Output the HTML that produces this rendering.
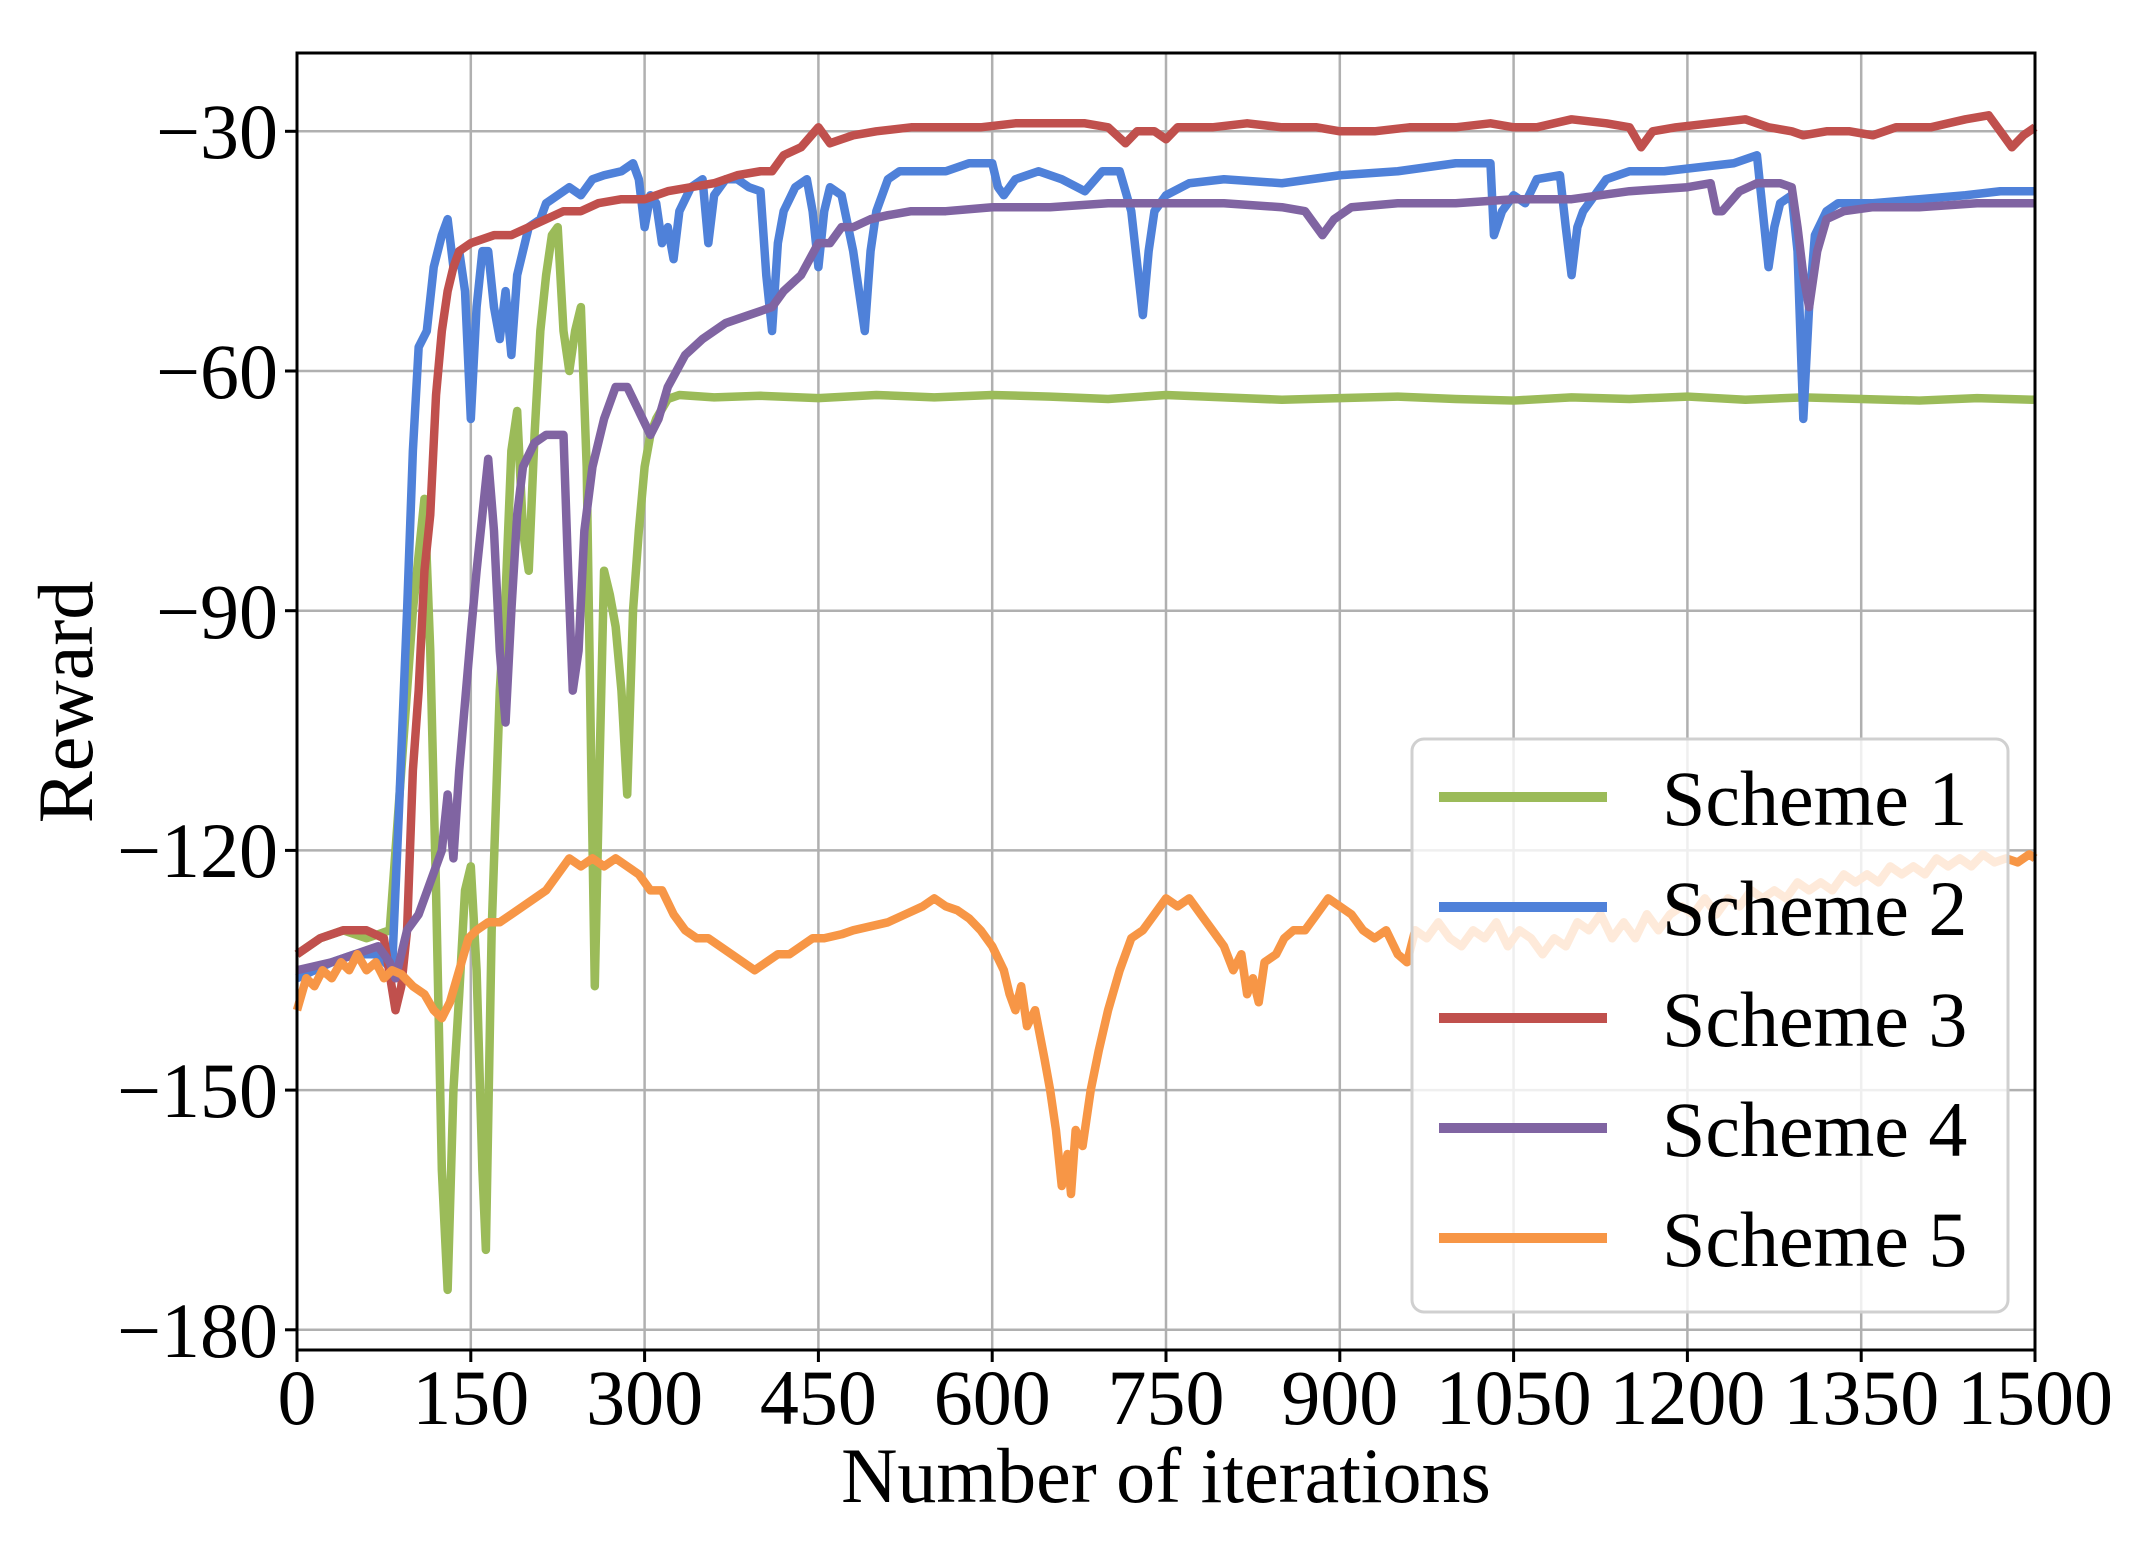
<!DOCTYPE html>
<html><head><meta charset="utf-8"><style>
html,body{margin:0;padding:0;background:#fff}
svg{display:block}
text{font-family:"Liberation Serif",serif;fill:#000}
</style></head><body>
<svg width="2152" height="1541" viewBox="0 0 2152 1541" xmlns="http://www.w3.org/2000/svg">
<rect width="2152" height="1541" fill="#fff"/>
<g stroke="#b0b0b0" stroke-width="2.5">
<line x1="470.8" y1="53" x2="470.8" y2="1350"/>
<line x1="644.6" y1="53" x2="644.6" y2="1350"/>
<line x1="818.4" y1="53" x2="818.4" y2="1350"/>
<line x1="992.2" y1="53" x2="992.2" y2="1350"/>
<line x1="1166" y1="53" x2="1166" y2="1350"/>
<line x1="1339.8" y1="53" x2="1339.8" y2="1350"/>
<line x1="1513.6" y1="53" x2="1513.6" y2="1350"/>
<line x1="1687.4" y1="53" x2="1687.4" y2="1350"/>
<line x1="1861.2" y1="53" x2="1861.2" y2="1350"/>
<line x1="297" y1="131.3" x2="2035" y2="131.3"/>
<line x1="297" y1="371" x2="2035" y2="371"/>
<line x1="297" y1="610.7" x2="2035" y2="610.7"/>
<line x1="297" y1="850.4" x2="2035" y2="850.4"/>
<line x1="297" y1="1090.1" x2="2035" y2="1090.1"/>
<line x1="297" y1="1329.8" x2="2035" y2="1329.8"/>
</g>
<g transform="matrix(1.1587 0 0 -7.99 297 -108.4)" fill="none" stroke-linejoin="round">
<polyline vector-effect="non-scaling-stroke" stroke="#9bbb59" stroke-width="8.5" points="0,-133 20,-131 40,-130 60,-131 80,-130 90,-110 100,-90 110,-76 115,-95 120,-125 125,-160 130,-175 135,-150 140,-138 145,-125 150,-122 155,-135 160,-160 163,-170 168,-130 175,-100 180,-88 185,-70 190,-65 195,-80 200,-85 205,-68 210,-55 215,-48 220,-43 225,-42 230,-55 235,-60 240,-55 245,-52 250,-72 254,-110 257,-137 261,-110 265,-85 270,-88 275,-92 280,-100 285,-113 290,-90 295,-80 300,-72 305,-68 310,-66 320,-63.5 330,-63 360,-63.3 400,-63.1 450,-63.4 500,-63 550,-63.3 600,-63 650,-63.2 700,-63.5 750,-63 800,-63.3 850,-63.6 900,-63.4 950,-63.2 1000,-63.5 1050,-63.7 1100,-63.3 1150,-63.5 1200,-63.2 1250,-63.6 1300,-63.3 1350,-63.5 1400,-63.7 1450,-63.4 1500,-63.6"/>
<polyline vector-effect="non-scaling-stroke" stroke="#4f81d9" stroke-width="8.5" points="0,-136 30,-134 50,-133 70,-133 82,-135 88,-115 95,-90 100,-70 105,-57 112,-55 118,-47 125,-43 130,-41 135,-47 140,-45 145,-50 150,-66 155,-52 160,-45 165,-45 170,-52 175,-56 180,-50 185,-58 190,-48 195,-45 200,-42 210,-41 215,-39 225,-38 235,-37 245,-38 255,-36 265,-35.5 280,-35 290,-34 295,-36 300,-42 305,-38 310,-39 315,-44 320,-42 325,-46 330,-40 340,-37 350,-36 355,-44 360,-38 370,-36 380,-36 390,-37 400,-37.5 405,-48 410,-55 415,-44 420,-40 430,-37 440,-36 445,-40 450,-47 455,-40 460,-37 470,-38 480,-45 490,-55 495,-45 500,-40 510,-36 520,-35 540,-35 560,-35 580,-34 600,-34 605,-37 610,-38 620,-36 640,-35 660,-36 680,-37.5 695,-35 710,-35 720,-40 730,-53 735,-45 740,-40 750,-38 770,-36.5 800,-36 850,-36.5 900,-35.5 950,-35 1000,-34 1030,-34 1033,-43 1040,-40 1050,-38 1060,-39 1070,-36 1090,-35.5 1095,-42 1100,-48 1105,-42 1110,-40 1120,-38 1130,-36 1150,-35 1180,-35 1210,-34.5 1240,-34 1260,-33 1265,-40 1270,-47 1275,-42 1280,-39 1290,-38 1295,-45 1300,-66 1305,-52 1310,-43 1320,-40 1330,-39 1360,-39 1400,-38.5 1440,-38 1470,-37.5 1500,-37.5"/>
<polyline vector-effect="non-scaling-stroke" stroke="#c0504d" stroke-width="8.5" points="0,-133 20,-131 40,-130 60,-130 75,-131 85,-140 90,-137 95,-130 100,-110 105,-100 110,-85 115,-78 120,-63 125,-55 130,-50 135,-47 140,-45 150,-44 170,-43 185,-43 200,-42 215,-41 230,-40 245,-40 260,-39 280,-38.5 300,-38.5 320,-37.5 340,-37 360,-36.5 380,-35.5 400,-35 410,-35 420,-33 435,-32 450,-29.5 460,-31.5 470,-31 480,-30.5 500,-30 530,-29.5 560,-29.5 590,-29.5 620,-29 650,-29 680,-29 700,-29.5 715,-31.5 725,-30 740,-30 750,-31 760,-29.5 790,-29.5 820,-29 850,-29.5 880,-29.5 900,-30 930,-30 960,-29.5 1000,-29.5 1030,-29 1050,-29.5 1070,-29.5 1100,-28.5 1130,-29 1150,-29.5 1160,-32 1170,-30 1190,-29.5 1220,-29 1250,-28.5 1270,-29.5 1290,-30 1300,-30.5 1320,-30 1340,-30 1360,-30.5 1380,-29.5 1410,-29.5 1440,-28.5 1460,-28 1470,-30 1480,-32 1490,-30.5 1500,-29.5"/>
<polyline vector-effect="non-scaling-stroke" stroke="#8064a2" stroke-width="8.5" points="0,-135 30,-134 50,-133 70,-132 80,-134 85,-136 95,-130 105,-128 115,-124 125,-120 130,-113 135,-121 140,-110 150,-93 155,-85 160,-78 165,-71 170,-80 175,-95 180,-104 185,-90 190,-78 195,-72 205,-69 215,-68 230,-68 234,-85 238,-100 243,-95 248,-80 255,-72 265,-66 275,-62 285,-62 295,-65 305,-68 312,-66 320,-62 335,-58 350,-56 370,-54 390,-53 410,-52 420,-50 435,-48 450,-44 460,-44 470,-42 480,-42 495,-41 510,-40.5 530,-40 560,-40 600,-39.5 650,-39.5 700,-39 750,-39 800,-39 850,-39.5 870,-40 885,-43 895,-41 910,-39.5 950,-39 1000,-39 1050,-38.5 1100,-38.5 1150,-37.5 1200,-37 1220,-36.5 1225,-40 1230,-40 1245,-37.5 1260,-36.5 1280,-36.5 1290,-37 1295,-42 1300,-48 1305,-52 1312,-45 1320,-41 1335,-40 1360,-39.5 1400,-39.5 1450,-39 1500,-39"/>
<polyline vector-effect="non-scaling-stroke" stroke="#f79646" stroke-width="8.5" points="0,-140 8,-136 15,-137 22,-135 30,-136 38,-134 45,-135 52,-133 60,-135 68,-134 75,-136 82,-135 90,-135.5 100,-137 110,-138 118,-140 125,-141 132,-139 140,-135 148,-131 155,-130 165,-129 175,-129 185,-128 195,-127 205,-126 215,-125 225,-123 235,-121 245,-122 255,-121 265,-122 275,-121 285,-122 295,-123 305,-125 315,-125 325,-128 335,-130 345,-131 355,-131 365,-132 375,-133 385,-134 395,-135 405,-134 415,-133 425,-133 435,-132 445,-131 455,-131 470,-130.5 480,-130 495,-129.5 510,-129 525,-128 540,-127 550,-126 560,-127 570,-127.5 580,-128.5 590,-130 600,-132 610,-135 615,-138 620,-140 625,-137 630,-142 637,-140 645,-146 650,-150 655,-155 660,-162 665,-158 668,-163 672,-155 678,-157 685,-150 692,-145 700,-140 710,-135 720,-131 730,-130 740,-128 750,-126 760,-127 770,-126 780,-128 790,-130 800,-132 808,-135 815,-133 820,-138 825,-136 830,-139 835,-134 845,-133 852,-131 860,-130 870,-130 880,-128 890,-126 900,-127 910,-128 920,-130 930,-131 940,-130 950,-133 958,-134 965,-130 975,-131 985,-129 995,-131 1005,-132 1015,-130 1025,-131 1035,-129 1045,-132 1055,-130 1065,-131 1075,-133 1085,-131 1095,-132 1105,-129 1115,-130 1125,-128 1135,-131 1145,-129 1155,-131 1165,-128 1175,-130 1185,-128 1195,-127 1205,-128 1215,-126 1225,-128 1235,-126 1245,-127 1255,-125 1265,-126 1275,-125 1285,-126 1295,-124 1305,-125 1315,-124 1325,-125 1335,-123 1345,-124 1355,-123 1365,-124 1375,-122 1385,-123 1395,-122 1405,-123 1415,-121 1425,-122 1435,-121 1445,-122 1455,-120.5 1465,-121.5 1475,-121 1485,-121.5 1495,-120.5 1500,-121"/>
</g>
<rect x="297" y="53" width="1738" height="1297" fill="none" stroke="#000" stroke-width="3"/>
<g stroke="#000" stroke-width="3">
<line x1="297" y1="1350" x2="297" y2="1362"/><line x1="470.8" y1="1350" x2="470.8" y2="1362"/><line x1="644.6" y1="1350" x2="644.6" y2="1362"/><line x1="818.4" y1="1350" x2="818.4" y2="1362"/><line x1="992.2" y1="1350" x2="992.2" y2="1362"/><line x1="1166" y1="1350" x2="1166" y2="1362"/><line x1="1339.8" y1="1350" x2="1339.8" y2="1362"/><line x1="1513.6" y1="1350" x2="1513.6" y2="1362"/><line x1="1687.4" y1="1350" x2="1687.4" y2="1362"/><line x1="1861.2" y1="1350" x2="1861.2" y2="1362"/><line x1="2035" y1="1350" x2="2035" y2="1362"/>
<line x1="285" y1="131.3" x2="297" y2="131.3"/><line x1="285" y1="371" x2="297" y2="371"/><line x1="285" y1="610.7" x2="297" y2="610.7"/><line x1="285" y1="850.4" x2="297" y2="850.4"/><line x1="285" y1="1090.1" x2="297" y2="1090.1"/><line x1="285" y1="1329.8" x2="297" y2="1329.8"/>
</g>
<g font-size="78" text-anchor="middle">
<text x="297" y="1424">0</text><text x="470.8" y="1424">150</text><text x="644.6" y="1424">300</text><text x="818.4" y="1424">450</text><text x="992.2" y="1424">600</text><text x="1166" y="1424">750</text><text x="1339.8" y="1424">900</text><text x="1513.6" y="1424">1050</text><text x="1687.4" y="1424">1200</text><text x="1861.2" y="1424">1350</text><text x="2035" y="1424">1500</text>
</g>
<g font-size="78" text-anchor="end">
<text x="278" y="158">−30</text><text x="278" y="398">−60</text><text x="278" y="638">−90</text><text x="278" y="877">−120</text><text x="278" y="1117">−150</text><text x="278" y="1357">−180</text>
</g>
<text x="1166" y="1502" font-size="78" text-anchor="middle">Number of iterations</text>
<text transform="translate(92 702) rotate(-90)" font-size="78" text-anchor="middle">Reward</text>
<rect x="1412" y="739" width="596" height="573" rx="12" fill="#fff" fill-opacity="0.8" stroke="#d0d0d0" stroke-width="3"/>
<g stroke-width="10">
<line x1="1439" y1="797" x2="1607" y2="797" stroke="#9bbb59"/>
<line x1="1439" y1="907" x2="1607" y2="907" stroke="#4f81d9"/>
<line x1="1439" y1="1018" x2="1607" y2="1018" stroke="#c0504d"/>
<line x1="1439" y1="1128" x2="1607" y2="1128" stroke="#8064a2"/>
<line x1="1439" y1="1238" x2="1607" y2="1238" stroke="#f79646"/>
</g>
<g font-size="78">
<text x="1662" y="825">Scheme 1</text>
<text x="1662" y="935">Scheme 2</text>
<text x="1662" y="1046">Scheme 3</text>
<text x="1662" y="1156">Scheme 4</text>
<text x="1662" y="1266">Scheme 5</text>
</g>
</svg>
</body></html>
